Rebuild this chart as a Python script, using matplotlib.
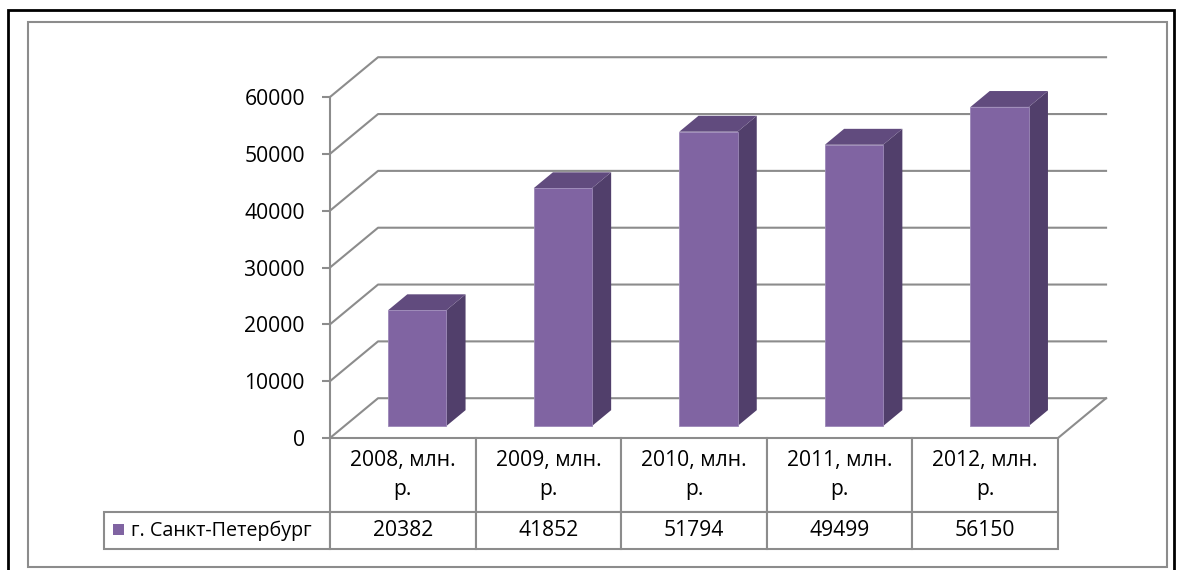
import numpy as np
import matplotlib.pyplot as plt
from matplotlib.patches import Polygon, Rectangle

plt.rcParams['font.family'] = ['Open Sans', 'DejaVu Sans']

# данные
categories = ['2008, млн.\nр.', '2009, млн.\nр.', '2010, млн.\nр.', '2011, млн.\nр.', '2012, млн.\nр.']
values = [20382, 41852, 51794, 49499, 56150]
series_name = 'г. Санкт-Петербург'
yticks = [0, 10000, 20000, 30000, 40000, 50000, 60000]

# цвета
c_front = '#8064A2'
c_top = '#614B7E'
c_side = '#513F6B'
c_grid = '#8C8C8C'
fs = 15.2

W, H = 1177, 570
fig = plt.figure(figsize=(W / 100, H / 100), dpi=100)

# рамки вокруг диаграммы
fig.add_artist(Rectangle((8 / W, -0.01), (1174 - 8) / W, (H - 10) / H + 0.01,
                         transform=fig.transFigure, fill=False, ec='black', lw=2))
fig.add_artist(Rectangle((28 / W, 3 / H), (1167 - 28) / W, (H - 22 - 3) / H,
                         transform=fig.transFigure, fill=False, ec='#8C8C8C', lw=1.5))

ax_w, ax_h = 728, 341
ax = fig.add_axes([330 / W, (H - 438) / H, ax_w / W, ax_h / H])
n = len(values)
ax.set_xlim(0, n)
ax.set_ylim(0, 60000)

# глубина "3D" в единицах данных
DX = 0.33
DY = 7000

# стенки и сетка
for v in yticks:
    ax.plot([0, DX, n + DX], [v, v + DY, v + DY], color=c_grid, lw=1.5, clip_on=False, zorder=1)
# пол
ax.plot([n, n + DX], [0, DY], color=c_grid, lw=1.5, clip_on=False, zorder=1)

# столбцы
f0, d, bw = 0.3, 0.4, 0.4
for i, v in enumerate(values):
    xl = i + 0.5 - bw / 2 + f0 * DX
    xr = xl + bw
    b = f0 * DY
    t = v + f0 * DY
    front = Rectangle((xl, b), bw, v, fc=c_front, ec='#9C88B8', lw=0.6, clip_on=False, zorder=3)
    side = Polygon([(xr, b), (xr + d * DX, b + d * DY), (xr + d * DX, t + d * DY), (xr, t)],
                   closed=True, fc=c_side, ec='none', clip_on=False, zorder=2)
    top = Polygon([(xl, t), (xl + d * DX, t + d * DY), (xr + d * DX, t + d * DY), (xr, t)],
                  closed=True, fc=c_top, ec='none', clip_on=False, zorder=2)
    ax.add_patch(side)
    ax.add_patch(top)
    ax.add_patch(front)

# оси
for s in ['top', 'right', 'bottom']:
    ax.spines[s].set_visible(False)
ax.spines['left'].set_color(c_grid)
ax.spines['left'].set_linewidth(1.5)
ax.set_yticks(yticks)
ax.set_xticks([])
ax.tick_params(axis='y', length=6, width=1.5, color=c_grid, labelsize=fs, pad=12)
ax.patch.set_visible(False)

# таблица данных под осью
lab_w = 226
row_h = [74, 37]
tbl = ax.table(cellText=[[str(v) for v in values]], colLabels=categories,
               cellLoc='center', loc='bottom')
tbl.add_cell(1, -1, lab_w / ax_w, row_h[1] / ax_h, text=series_name, loc='left')
tbl.auto_set_font_size(False)
tbl.set_fontsize(fs)
for (r, c), cell in tbl.get_celld().items():
    cell.set_edgecolor(c_grid)
    cell.set_linewidth(1.5)
    cell.set_width((lab_w if c == -1 else ax_w / n) / ax_w)
    cell.set_height(row_h[r] / ax_h)
    if r == 0:
        cell.get_text().set_linespacing(1.55)
    if c == -1:
        cell.PAD = 27 / lab_w
        cell.get_text().set_fontsize(14.2)

# маркер легенды
ax.add_patch(Rectangle((-217 / ax_w, -97 / ax_h), 11 / ax_w, 11 / ax_h, transform=ax.transAxes,
                       fc=c_front, ec='none', clip_on=False, zorder=5))

fig.savefig('out.png', dpi=100)
